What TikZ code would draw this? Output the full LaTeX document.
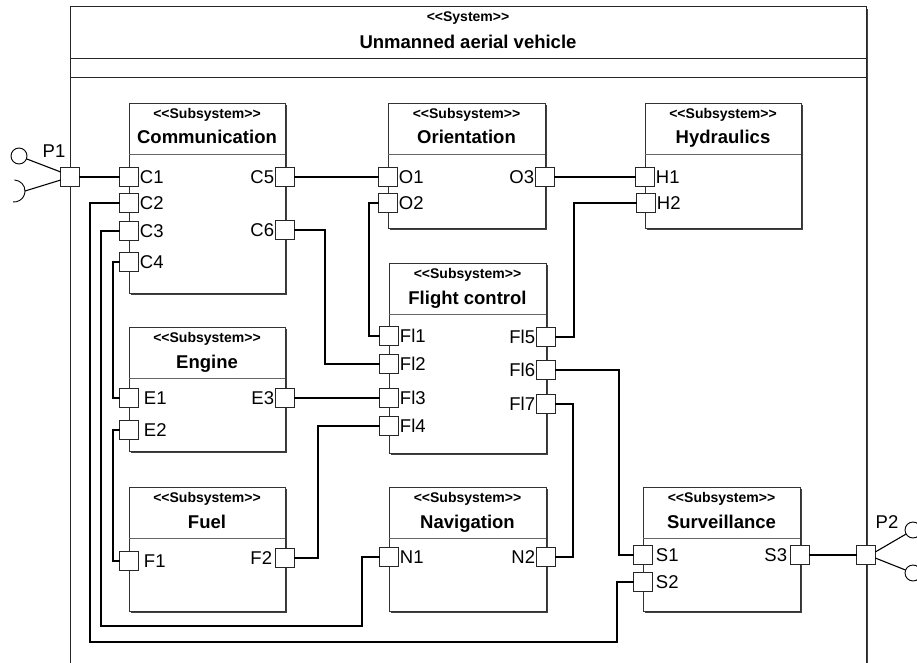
\documentclass[tikz,border=0pt]{standalone}
\usepackage{fontspec}
\setmainfont{Liberation Sans}
\usepackage{tikz}
\usetikzlibrary{positioning}
\usetikzlibrary{shadows}

\newcommand{\stsub}{<\kern0pt<Subsystem>\kern0pt>}
\newcommand{\stsys}{<\kern0pt<System>\kern0pt>}

\begin{document}
\begin{tikzpicture}[x=1pt, y=-1pt,
    box/.style={draw=black!80, line width=0.9pt, fill=white, inner sep=0pt, outer sep=0pt, anchor=north west,
        drop shadow={shadow xshift=1.6pt, shadow yshift=-1.6pt, fill=black!75, opacity=1}},
    port/.style={draw=black!85, line width=0.9pt, fill=white, minimum size=18.5pt, inner sep=0pt, outer sep=0pt},
    stereo/.style={font=\bfseries\fontsize{14}{14}\selectfont, inner sep=0pt, anchor=base},
    boxname/.style={font=\bfseries\fontsize{18.5}{19}\selectfont, inner sep=0pt, anchor=base},
    hsep/.style={draw=black!60, line width=0.7pt},
    wire/.style={line width=1.1pt},
    lbl/.style={font=\fontsize{18.5}{18}\selectfont, inner sep=0pt},
    every label/.style={font=\fontsize{18.5}{18}\selectfont, inner sep=1.5pt},
    label distance=0pt]
    \useasboundingbox (0,0) rectangle (917,663);

    % System frame
    \node[box, minimum width=796pt, minimum height=720pt, line width=1pt, draw=black!85] (uav) at (70,7) {};
    \node[stereo] (uavst) at ([yshift=-15pt]uav.north) {\stsys};
    \node[boxname] (uavname) at ([yshift=-42pt]uav.north) {Unmanned aerial vehicle};
    \draw[hsep, draw=black!85] ([yshift=-51pt]uav.north west) -- ([yshift=-51pt]uav.north east);
    \draw[hsep, draw=black!85] ([yshift=-70pt]uav.north west) -- ([yshift=-70pt]uav.north east);

    % Subsystems
    \node[box, minimum width=156pt, minimum height=190pt] (comm) at (129,103) {};
    \node[stereo] (commst) at ([yshift=-16pt]comm.north) {\stsub};
    \node[boxname] (commname) at ([yshift=-41pt]comm.north) {Communication};
    \draw[hsep] ([yshift=-51pt]comm.north west) -- ([yshift=-51pt]comm.north east);

    \node[box, minimum width=157pt, minimum height=125pt] (orient) at (388,103) {};
    \node[stereo] (orientst) at ([yshift=-16pt]orient.north) {\stsub};
    \node[boxname] (orientname) at ([yshift=-41pt]orient.north) {Orientation};
    \draw[hsep] ([yshift=-51pt]orient.north west) -- ([yshift=-51pt]orient.north east);

    \node[box, minimum width=156pt, minimum height=125pt] (hydr) at (645,103) {};
    \node[stereo] (hydrst) at ([yshift=-16pt]hydr.north) {\stsub};
    \node[boxname] (hydrname) at ([yshift=-41pt]hydr.north) {Hydraulics};
    \draw[hsep] ([yshift=-51pt]hydr.north west) -- ([yshift=-51pt]hydr.north east);

    \node[box, minimum width=157pt, minimum height=190pt] (flight) at (389,263) {};
    \node[stereo] (flightst) at ([yshift=-15pt]flight.north) {\stsub};
    \node[boxname] (flightname) at ([yshift=-41pt]flight.north) {Flight control};
    \draw[hsep] ([yshift=-51pt]flight.north west) -- ([yshift=-51pt]flight.north east);

    \node[box, minimum width=156pt, minimum height=124pt] (engine) at (129,327) {};
    \node[stereo] (enginest) at ([yshift=-15pt]engine.north) {\stsub};
    \node[boxname] (enginename) at ([yshift=-41pt]engine.north) {Engine};
    \draw[hsep] ([yshift=-51pt]engine.north west) -- ([yshift=-51pt]engine.north east);

    \node[box, minimum width=156pt, minimum height=124pt] (fuel) at (129,487) {};
    \node[stereo] (fuelst) at ([yshift=-15pt]fuel.north) {\stsub};
    \node[boxname] (fuelname) at ([yshift=-41pt]fuel.north) {Fuel};
    \draw[hsep] ([yshift=-51pt]fuel.north west) -- ([yshift=-51pt]fuel.north east);

    \node[box, minimum width=157pt, minimum height=124pt] (navi) at (389,487) {};
    \node[stereo] (navist) at ([yshift=-15pt]navi.north) {\stsub};
    \node[boxname] (naviname) at ([yshift=-41pt]navi.north) {Navigation};
    \draw[hsep] ([yshift=-51pt]navi.north west) -- ([yshift=-51pt]navi.north east);

    \node[box, minimum width=157pt, minimum height=124pt] (surv) at (643,487) {};
    \node[stereo] (survst) at ([yshift=-15pt]surv.north) {\stsub};
    \node[boxname] (survname) at ([yshift=-41pt]surv.north) {Surveillance};
    \draw[hsep] ([yshift=-51pt]surv.north west) -- ([yshift=-51pt]surv.north east);

    % Ports
    \node[port] (P1) at (70,177) {};
    \node[lbl] (P1lbl) at (54,151) {P1};
    \node[port, label=right:C1] (C1) at (129,177) {};
    \node[port, label=right:C2] (C2) at (129,203) {};
    \node[port, label=right:C3] (C3) at (129,231) {};
    \node[port, label=right:C4] (C4) at (129,262) {};
    \node[port, label=left:C5] (C5) at (285,177) {};
    \node[port, label=left:C6] (C6) at (285,230) {};
    \node[port, label=right:O1] (O1) at (388,177) {};
    \node[port, label=right:O2] (O2) at (388,203) {};
    \node[port, label=left:O3] (O3) at (545,177) {};
    \node[port, label=right:H1] (H1) at (645,177) {};
    \node[port, label=right:H2] (H2) at (646,203) {};
    \node[port, label=right:Fl1] (Fl1) at (389,336) {};
    \node[port, label=right:Fl2] (Fl2) at (389,364) {};
    \node[port, label=right:Fl3] (Fl3) at (389,398) {};
    \node[port, label=right:Fl4] (Fl4) at (389,426) {};
    \node[port, label=left:Fl5] (Fl5) at (546,337) {};
    \node[port, label=left:Fl6] (Fl6) at (546,370) {};
    \node[port, label=left:Fl7] (Fl7) at (546,404) {};
    \node[port, label={[label distance=4pt]right:E1}] (E1) at (129,398) {};
    \node[port, label={[label distance=4pt]right:E2}] (E2) at (129,430) {};
    \node[port, label=left:E3] (E3) at (285,398) {};
    \node[port, label={[label distance=4pt]right:F1}] (F1) at (129,561) {};
    \node[port, label={[label distance=2pt]left:F2}] (F2) at (285,558) {};
    \node[port, label=right:N1] (N1) at (389,557) {};
    \node[port, label=left:N2] (N2) at (546,557) {};
    \node[port, label={[label distance=2pt]right:S1}] (S1) at (643,555) {};
    \node[port, label={[label distance=2pt]right:S2}] (S2) at (643,582) {};
    \node[port, label={[label distance=2pt]left:S3}] (S3) at (800,555) {};
    \node[port] (P2) at (866,555) {};
    \node[lbl] (P2lbl) at (887,522) {P2};

    % Provided / required interfaces
    \node[draw, circle, line width=0.9pt, minimum size=16pt, inner sep=0pt] (P1ball) at (19,156) {};
    \coordinate (P1sock) at (25,191);
    \draw[wire] ([yshift=5pt]P1.west) -- (P1ball);
    \draw[wire] ([yshift=-3pt]P1.west) -- (P1sock);
    \draw[line width=0.9pt] (P1sock) arc[start angle=0, end angle=95, radius=11]
        (P1sock) arc[start angle=0, end angle=-88, radius=11];
    \node[draw, circle, line width=0.9pt, minimum size=16pt, inner sep=0pt] (P2ballA) at (913,530) {};
    \node[draw, circle, line width=0.9pt, minimum size=16pt, inner sep=0pt] (P2ballB) at (913,573) {};
    \draw[wire] ([yshift=3pt]P2.east) -- (P2ballA);
    \draw[wire] ([yshift=-3pt]P2.east) -- (P2ballB);

    % Connectors
    \draw[wire] (P1) -- (C1);
    \draw[wire] (C5) -- (O1);
    \draw[wire] (O3) -- (H1);
    \draw[wire] (E3) -- (Fl3);
    \draw[wire] (S3) -- (P2);
    \draw[wire] (C2.west) -| (90,642) -| (617,582) -- (S2.west);
    \draw[wire] (C3.west) -| (101,626) -| (362,557) -- (N1.west);
    \draw[wire] (C4.west) -| (113,398) -- (E1.west);
    \draw[wire] (E2.west) -| (113,561) -- (F1.west);
    \draw[wire] (C6.east) -| (325,364) -- (Fl2.west);
    \draw[wire] (O2.west) -| (369,336) -- (Fl1.west);
    \draw[wire] (F2.east) -| (318,426) -- (Fl4.west);
    \draw[wire] (H2.west) -| (574,337) -- (Fl5.east);
    \draw[wire] (Fl6.east) -| (619,555) -- (S1.west);
    \draw[wire] (Fl7.east) -| (573,557) -- (N2.east);
\end{tikzpicture}
\end{document}
